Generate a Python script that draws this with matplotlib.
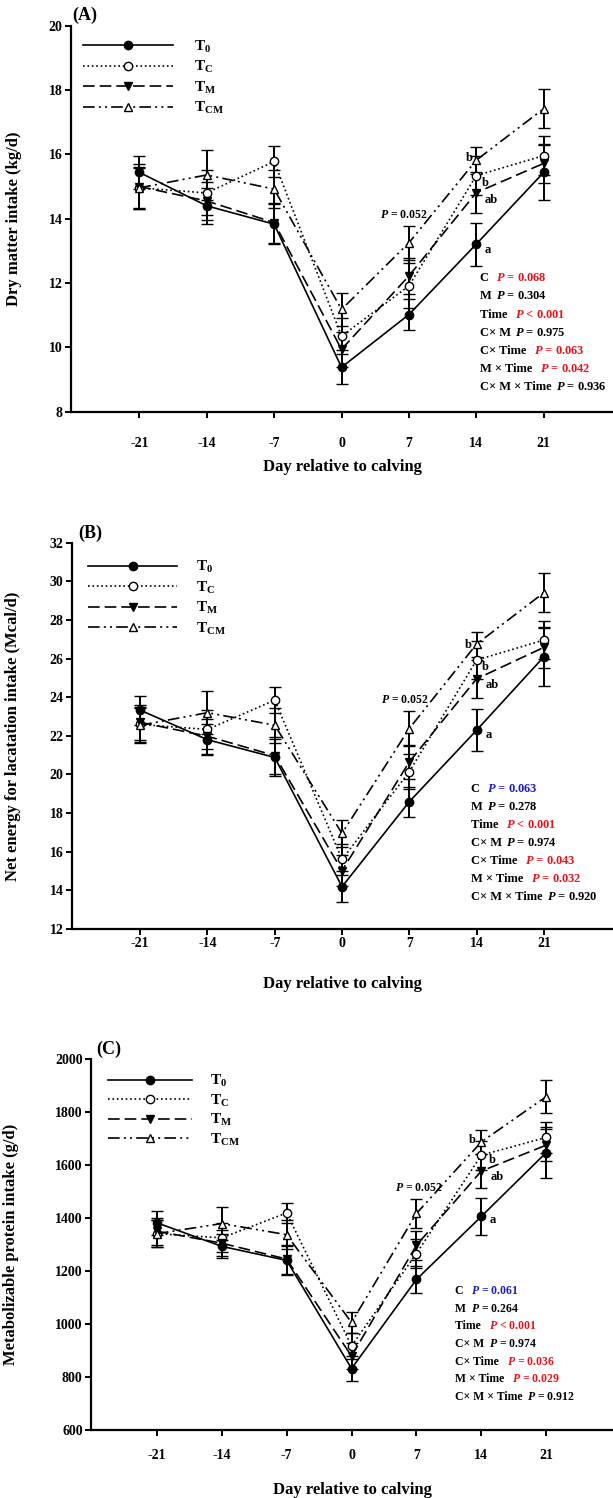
import matplotlib
matplotlib.use("Agg")
import matplotlib.pyplot as plt

plt.rcParams['font.family'] = ['Liberation Serif', 'DejaVu Serif']
plt.rcParams['font.weight'] = 'bold'
plt.rcParams['mathtext.fontset'] = 'custom'
plt.rcParams['mathtext.rm'] = 'Liberation Serif:bold'
plt.rcParams['mathtext.it'] = 'Liberation Serif:bold:italic'
plt.rcParams['mathtext.bf'] = 'Liberation Serif:bold'

days = [-21, -14, -7, 0, 7, 14, 21]
groups = ['T0', 'TC', 'TM', 'TCM']
group_labels = [r'$\mathrm{T_{0}}$', r'$\mathrm{T_{C}}$', r'$\mathrm{T_{M}}$', r'$\mathrm{T_{CM}}$']

# (A) dry matter intake, kg/d
dmi_mean = {
    'T0': [15.44, 14.40, 13.83, 9.38, 11.02, 13.21, 15.44],
    'TC': [14.96, 14.80, 15.78, 10.35, 11.91, 15.34, 15.96],
    'TM': [15.00, 14.55, 13.88, 9.94, 12.22, 14.81, 15.72],
    'TCM': [14.96, 15.36, 14.92, 11.18, 13.25, 15.82, 17.42],
}
dmi_se = {
    'T0': [0.52, 0.55, 0.62, 0.53, 0.49, 0.67, 0.86],
    'TC': [0.62, 0.70, 0.47, 0.55, 0.70, 0.60, 0.60],
    'TM': [0.70, 0.60, 0.62, 0.55, 0.55, 0.64, 0.60],
    'TCM': [0.65, 0.77, 0.60, 0.52, 0.53, 0.42, 0.60],
}

# (B) net energy for lactation intake, Mcal/d
nel_mean = {
    'T0': [23.33, 21.80, 20.88, 14.19, 18.59, 22.29, 26.09],
    'TC': [22.59, 22.33, 23.85, 15.60, 20.14, 25.92, 26.96],
    'TM': [22.70, 21.98, 20.98, 15.02, 20.65, 24.95, 26.58],
    'TCM': [22.55, 23.20, 22.55, 16.95, 22.38, 26.75, 29.41],
}
nel_se = {
    'T0': [0.75, 0.80, 0.95, 0.80, 0.78, 1.10, 1.50],
    'TC': [0.90, 1.00, 0.66, 0.80, 0.90, 1.00, 1.00],
    'TM': [0.90, 0.90, 0.95, 0.80, 0.90, 1.00, 1.05],
    'TCM': [0.90, 1.10, 0.90, 0.70, 0.90, 0.65, 1.00],
}

# (C) metabolizable protein intake, g/d
mp_mean = {
    'T0': [1382, 1293, 1240, 832, 1168, 1406, 1647],
    'TC': [1341, 1325, 1419, 917, 1266, 1637, 1704],
    'TM': [1350, 1305, 1245, 879, 1297, 1577, 1675],
    'TCM': [1341, 1379, 1337, 1006, 1417, 1687, 1858],
}
mp_se = {
    'T0': [45, 45, 55, 48, 50, 71, 95],
    'TC': [50, 55, 36, 50, 55, 55, 60],
    'TM': [50, 50, 55, 50, 55, 65, 60],
    'TCM': [50, 63, 55, 40, 55, 44, 63],
}

stat_terms = ['C ', 'M', 'Time ', 'C\u00d7 M', 'C\u00d7 Time ', 'M \u00d7 Time ', 'C\u00d7 M \u00d7 Time']
dmi_p = ['= 0.068', '= 0.304', '< 0.001', '= 0.975', '= 0.063', '= 0.042', '= 0.936']
nel_p = ['= 0.063', '= 0.278', '< 0.001', '= 0.974', '= 0.043', '= 0.032', '= 0.920']
mp_p = ['= 0.061', '= 0.264', '< 0.001', '= 0.974', '= 0.036', '= 0.029', '= 0.912']
dmi_pcol = ['red', 'black', 'red', 'black', 'red', 'red', 'black']
nel_pcol = ['blue', 'black', 'red', 'black', 'red', 'red', 'black']
mp_pcol = ['blue', 'black', 'red', 'black', 'red', 'red', 'black']

RED = '#e8141c'
BLUE = '#1c1cc8'
styles = {
    'T0': dict(ls='-', marker='o', mfc='black'),
    'TC': dict(ls=':', marker='o', mfc='white'),
    'TM': dict(ls=(0, (7, 3)), marker='v', mfc='black'),
    'TCM': dict(ls=(0, (7, 2.5, 1.2, 2.5, 1.2, 2.5)), marker='^', mfc='white'),
}

W, H = 613, 1498
fig = plt.figure(figsize=(W / 100, H / 100), dpi=100)


def px_axes(left, top, bottom):
    return fig.add_axes([left / W, 1 - bottom / H, (W - left) / W, (bottom - top) / H])


panels = [
    dict(rect=(71, 25.7, 411.7), mean=dmi_mean, se=dmi_se, ylim=(8, 20), ystep=2,
         ylabel='Dry matter intake (kg/d)', tag='(A)', tagxy=(72, 15), xpad=14, xl_y=-0.122, yl_x=-0.091,
         leg=dict(anchor=(0.022, 0.966), hl=5.9, htp=1.4, ls=0.28),
         p052=(8.9, 14.1), letters=[(13.6, 15.9, 'b', 'right'), (14.6, 15.12, 'b', 'left'),
                                    (14.9, 14.58, 'ab', 'left'), (14.9, 13.03, 'a', 'left')],
         stat_x=14.36, stat_y=(12.15, 8.76), pvals=dmi_p, pcols=dmi_pcol, sfs=9),
    dict(rect=(72, 542.7, 929), mean=nel_mean, se=nel_se, ylim=(12, 32), ystep=2,
         ylabel='Net energy for lacatation intake (Mcal/d)', tag='(B)', tagxy=(78, 533), xpad=2, xl_y=-0.121, yl_x=-0.0935,
         leg=dict(anchor=(0.030, 0.957), hl=5.8, htp=1.27, ls=0.28),
         p052=(9.0, 23.85), letters=[(13.5, 26.7, 'b', 'right'), (14.6, 25.55, 'b', 'left'),
                                     (14.9, 24.64, 'ab', 'left'), (14.9, 22.03, 'a', 'left')],
         stat_x=13.4, stat_y=(19.24, 13.67), pvals=nel_p, pcols=nel_pcol, sfs=9),
    dict(rect=(91, 1059, 1430), mean=mp_mean, se=mp_se, ylim=(600, 2000), ystep=200,
         ylabel='Metabolizable protein intake (g/d)', tag='(C)', tagxy=(96, 1049), xpad=10, xl_y=-0.14, yl_x=-0.137,
         leg=dict(anchor=(0.033, 0.962), hl=5.5, htp=1.14, ls=0.22),
         p052=(9.8, 1512), letters=[(13.4, 1696, 'b', 'right'), (14.8, 1617, 'b', 'left'),
                                    (15.0, 1553, 'ab', 'left'), (14.9, 1392, 'a', 'left')],
         stat_x=11.2, stat_y=(1123, 726), pvals=mp_p, pcols=mp_pcol, sfs=8.5),
]

for p in panels:
    ax = px_axes(*p['rect'])
    lines = []
    for g, lab in zip(groups, group_labels):
        st = styles[g]
        eb = ax.errorbar(days, p['mean'][g], yerr=p['se'][g], color='black', lw=1.2, ls=st['ls'],
                         marker=st['marker'], mfc=st['mfc'], mec='black', ms=6, mew=1,
                         ecolor='black', elinewidth=1.4, capsize=4, capthick=1.4)
        lines.append(eb[0])
    ax.set_xlim(-28.1, 28.2)
    ax.set_ylim(*p['ylim'])
    ax.set_xticks(days)
    ax.set_xticklabels([str(d) for d in days])
    lo, hi = p['ylim']
    ax.set_yticks(list(range(lo, hi + 1, p['ystep'])))
    for s in ['top', 'right']:
        ax.spines[s].set_visible(False)
    for s in ['left', 'bottom']:
        ax.spines[s].set_linewidth(1.6)
    ax.tick_params(axis='both', direction='out', length=4, width=1.4, labelsize=10)
    ax.tick_params(axis='x', pad=p['xpad'])
    ax.tick_params(axis='y', pad=2)
    ax.set_xlabel('Day relative to calving', fontsize=12, fontweight='bold')
    ax.xaxis.set_label_coords(0.5, p['xl_y'])
    ax.set_ylabel(p['ylabel'], fontsize=12, fontweight='bold')
    ax.yaxis.set_label_coords(p['yl_x'], 0.5)

    lg = p['leg']
    ax.legend(lines, group_labels, loc='upper left', bbox_to_anchor=lg['anchor'], frameon=False,
              fontsize=11, handlelength=lg['hl'], handletextpad=lg['htp'], labelspacing=lg['ls'],
              borderpad=0, borderaxespad=0, numpoints=1)

    fig.text(p['tagxy'][0] / W, 1 - p['tagxy'][1] / H, p['tag'], fontsize=13, fontweight='bold',
             ha='left', va='center')

    ax.text(p['p052'][0], p['p052'][1], r'$P$ = 0.052', fontsize=8.5, ha='right', va='center')
    for lx, ly, s, ha in p['letters']:
        ax.text(lx, ly, s, fontsize=9, ha=ha, va='center')

    y0, y1 = p['stat_y']
    step = (y0 - y1) / (len(stat_terms) - 1)
    for i, term in enumerate(stat_terms):
        t = ax.text(p['stat_x'], y0 - i * step, term + ' ', fontsize=p['sfs'], ha='left', va='center')
        c = {'red': RED, 'blue': BLUE, 'black': 'black'}[p['pcols'][i]]
        ax.annotate(r'$P$ ' + p['pvals'][i], xy=(1, 0.5), xycoords=t, xytext=(1, 0),
                    textcoords='offset points', fontsize=p['sfs'], ha='left', va='center',
                    color=c, annotation_clip=False)

fig.savefig('out.png', dpi=100)
